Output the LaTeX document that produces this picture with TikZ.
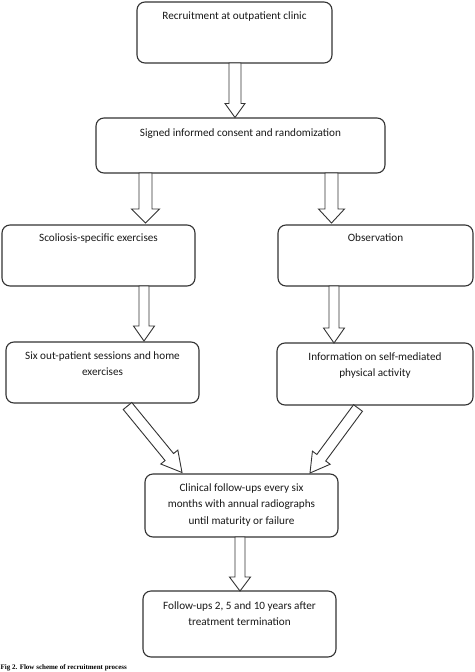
\documentclass[tikz,border=0pt]{standalone}
\usepackage{fontspec}
\setmainfont{Carlito}
\newfontfamily\capfont{Liberation Serif}
\usetikzlibrary{calc}
\tikzset{
  flowbox/.style={draw=black!80, line width=1.1pt, rounded corners=8pt, rectangle, inner sep=0pt},
  boxtext/.style={anchor=north, inner sep=0pt, align=center, font=\fontsize{11.2}{16.5}\selectfont, text=black!90},
  blockarrow/.style={draw=black!80, line width=0.9pt, fill=white, line join=miter},
}
\newcommand{\hollowarrow}[5]{%
  \coordinate (hb) at ($(#2)!#5!(#1)$);
  \draw[blockarrow] ($(#1)!#3!90:(#2)$) -- ($(hb)!#3!90:(#2)$) -- ($(hb)!#4!90:(#2)$) -- (#2)
    -- ($(hb)!#4!-90:(#2)$) -- ($(hb)!#3!-90:(#2)$) -- ($(#1)!#3!-90:(#2)$) -- cycle;}
\begin{document}
\begin{tikzpicture}[x=1pt,y=-1pt]
\useasboundingbox (0,0) rectangle (474,672);
\fill[white] (0,0) rectangle (474,672);

% boxes
\node[flowbox, minimum width=195pt, minimum height=61pt] (b1) at (234.5,32.5) {};
\node[flowbox, minimum width=289pt, minimum height=55pt] (b2) at (240.5,145.5) {};
\node[flowbox, minimum width=193pt, minimum height=61pt] (b3l) at (98.5,255.5) {};
\node[flowbox, minimum width=195pt, minimum height=61pt] (b3r) at (375.5,255.5) {};
\node[flowbox, minimum width=193pt, minimum height=61pt] (b4l) at (102.5,372.5) {};
\node[flowbox, minimum width=196pt, minimum height=62pt] (b4r) at (375,374) {};
\node[flowbox, minimum width=193pt, minimum height=63pt] (b5) at (241.5,505.5) {};
\node[flowbox, minimum width=193pt, minimum height=66pt] (b6) at (239.5,624) {};

% texts
\node[boxtext] (t1) at ($(b1.north)+(0,10)$) {Recruitment at outpatient clinic};
\node[boxtext] (t2) at ($(b2.north)+(0,11)$) {Signed informed consent and randomization};
\node[boxtext] (t3l) at ($(b3l.north)+(0,9)$) {Scoliosis-specific exercises};
\node[boxtext] (t3r) at ($(b3r.north)+(0,9)$) {Observation};
\node[boxtext] (t4l) at ($(b4l.north)+(0,10)$) {Six out-patient sessions and home\\exercises};
\node[boxtext] (t4r) at ($(b4r.north)+(0,10)$) {Information on self-mediated\\physical activity};
\node[boxtext] (t5) at ($(b5.north)+(0,10)$) {Clinical follow-ups every six\\months with annual radiographs\\until maturity or failure};
\node[boxtext] (t6) at ($(b6.north)+(0,11)$) {Follow-ups 2, 5 and 10 years after\\treatment termination};

% arrow end points
\coordinate (a1s) at (235,63);   \coordinate (a1e) at (235,117.5);
\coordinate (a2s) at (145.5,173); \coordinate (a2e) at (145.5,223);
\coordinate (a3s) at (331.5,173); \coordinate (a3e) at (331.5,223);
\coordinate (a4s) at (144,286);  \coordinate (a4e) at (144,341);
\coordinate (a5s) at (334,286);  \coordinate (a5e) at (334,343);
\coordinate (a6s) at (127.5,406); \coordinate (a6e) at (182,472.5);
\coordinate (a7s) at (358,408);  \coordinate (a7e) at (310,473);
\coordinate (a8s) at (240,537);  \coordinate (a8e) at (240,591);

\hollowarrow{a1s}{a1e}{6pt}{10pt}{14pt}
\hollowarrow{a2s}{a2e}{6.5pt}{14pt}{14pt}
\hollowarrow{a3s}{a3e}{6.5pt}{13pt}{14pt}
\hollowarrow{a4s}{a4e}{5pt}{10.5pt}{15pt}
\hollowarrow{a5s}{a5e}{5pt}{10.5pt}{15pt}
\hollowarrow{a6s}{a6e}{5.5pt}{11pt}{20pt}
\hollowarrow{a7s}{a7e}{5.5pt}{11pt}{19pt}
\hollowarrow{a8s}{a8e}{5pt}{10.5pt}{14pt}

% caption at the lower edge
\node[anchor=base west, inner sep=0pt, font=\capfont\bfseries\fontsize{7}{8}\selectfont] (cap) at (0.5,669.8) {Fig 2. Flow scheme of recruitment process};
\end{tikzpicture}
\end{document}
